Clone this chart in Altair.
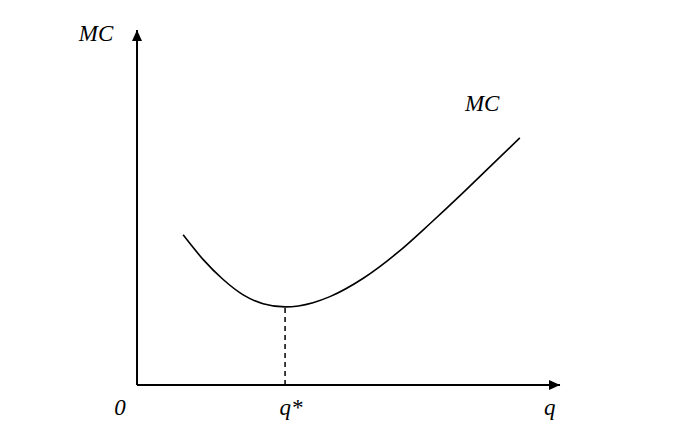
import altair as alt
import pandas as pd

# Marginal cost curve (q, MC) in axis units (axes run 0..100)
curve_q = [10.9, 15.6, 20.3, 25.1, 29.8, 35.0, 41.6, 45.6, 53.4, 61.5, 69.3, 77.1, 82.3, 90.5]
curve_mc = [42.3, 35.4, 29.8, 25.4, 22.9, 22.0, 23.2, 24.9, 30.0, 37.2, 45.5, 54.2, 60.2, 69.6]

q_star = 35.0
mc_min = 22.0
axis_max_x = 100
axis_max_y = 100

label_text = ["MC", "MC", "0", "q*", "q"]
label_x = [-9.7, 81.6, -4.0, 36.4, 97.6]
label_y = [96.9, 77.2, -8.4, -8.4, -8.4]

xdom = [-30.5, 131.2]
ydom = [-14.08, 106.2]

xs = alt.Scale(domain=xdom, nice=False, zero=False)
ys = alt.Scale(domain=ydom, nice=False, zero=False)

curve_df = pd.DataFrame({"q": curve_q, "mc": curve_mc})
labels_df = pd.DataFrame({"t": label_text, "x": label_x, "y": label_y})
axes_df = pd.DataFrame({"x": [0, 0], "y": [0, 0], "x2": [axis_max_x, 0], "y2": [0, axis_max_y]})
dash_df = pd.DataFrame({"x": [q_star], "y": [0], "y2": [mc_min]})
arrow_up_df = pd.DataFrame({"x": [0], "y": [axis_max_y]})
arrow_right_df = pd.DataFrame({"x": [axis_max_x], "y": [0]})

axes = alt.Chart(axes_df).mark_rule(color="black", strokeWidth=2).encode(
    x=alt.X("x:Q", scale=xs, axis=None),
    y=alt.Y("y:Q", scale=ys, axis=None),
    x2="x2:Q",
    y2="y2:Q",
)

arrow_up = alt.Chart(arrow_up_df).mark_point(
    shape="M0,0L-1,2.2L1,2.2Z", filled=True, color="black", opacity=1, size=100
).encode(x=alt.X("x:Q", scale=xs, axis=None), y=alt.Y("y:Q", scale=ys, axis=None))

arrow_right = alt.Chart(arrow_right_df).mark_point(
    shape="M0,0L-2.2,-1L-2.2,1Z", filled=True, color="black", opacity=1, size=100
).encode(x=alt.X("x:Q", scale=xs, axis=None), y=alt.Y("y:Q", scale=ys, axis=None))

dash = alt.Chart(dash_df).mark_rule(color="black", strokeWidth=1.5, strokeDash=[5, 4]).encode(
    x=alt.X("x:Q", scale=xs, axis=None),
    y=alt.Y("y:Q", scale=ys, axis=None),
    y2="y2:Q",
)

curve = alt.Chart(curve_df).mark_line(color="black", strokeWidth=1.6, interpolate="monotone").encode(
    x=alt.X("q:Q", scale=xs, axis=None),
    y=alt.Y("mc:Q", scale=ys, axis=None),
)

labels = alt.Chart(labels_df).mark_text(
    font="Liberation Serif", fontStyle="italic", fontSize=23, color="black",
    align="center", baseline="alphabetic"
).encode(
    x=alt.X("x:Q", scale=xs, axis=None),
    y=alt.Y("y:Q", scale=ys, axis=None),
    text="t:N",
)

chart = alt.layer(axes, dash, curve, arrow_up, arrow_right, labels).properties(
    width=684, height=427, padding=0
).configure_view(stroke=None)

chart.save("out.html", embed_options={"renderer": "svg", "actions": False})
